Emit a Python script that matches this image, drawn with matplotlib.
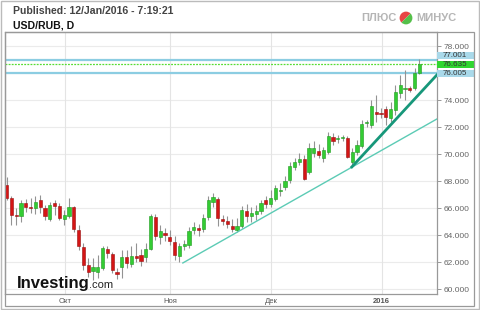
import numpy as np
import pandas as pd
import matplotlib
matplotlib.use('Agg')
import matplotlib.pyplot as plt
from matplotlib.patches import Rectangle
from matplotlib.transforms import blended_transform_factory

# daily candles USD/RUB, 14 Sep 2015 .. 12 Jan 2016
dates = pd.bdate_range('2015-09-14', '2016-01-12')
opens = [67.70, 66.74, 65.48, 65.41, 66.37, 66.07, 66.00, 66.59, 66.00, 65.19,
         66.37, 66.15, 65.19, 65.41, 66.07, 64.37, 63.11, 61.78, 61.33, 61.26,
         61.56, 62.96, 62.59, 61.26, 61.63, 62.37, 61.85, 62.44, 62.52, 62.37,
         62.96, 65.33, 63.85, 64.15, 63.85, 63.48, 62.44, 63.19, 63.26, 64.37,
         64.52, 64.44, 65.33, 66.44, 66.67, 65.19, 65.04, 64.67, 64.37, 64.67,
         65.78, 65.41, 65.56, 65.78, 66.59, 66.30, 66.67, 67.26, 67.56, 68.07,
         69.04, 69.41, 69.63, 68.67, 70.07, 70.22, 69.70, 70.15, 71.26, 71.15,
         71.17, 71.19, 69.41, 70.15, 70.59, 72.28, 72.15, 73.11, 73.04, 73.33,
         72.67, 73.26, 74.52, 74.85, 74.89, 74.89, 76.00]
closes = [66.74, 65.48, 65.41, 66.37, 66.07, 66.00, 66.44, 66.07, 65.41, 66.22,
          66.15, 65.26, 65.48, 66.07, 64.44, 63.19, 61.78, 61.26, 61.63, 61.63,
          63.04, 62.67, 61.41, 61.11, 62.37, 61.93, 62.44, 62.30, 62.07, 62.96,
          65.41, 63.93, 64.30, 64.00, 63.56, 62.52, 63.19, 63.33, 64.30, 64.59,
          64.37, 65.26, 66.59, 66.81, 65.26, 65.04, 64.81, 64.44, 64.67, 65.85,
          65.41, 65.63, 65.78, 66.37, 66.30, 66.74, 67.48, 67.33, 68.00, 69.11,
          69.41, 69.63, 68.15, 70.44, 70.44, 69.93, 70.30, 71.33, 70.96, 71.19,
          71.20, 69.78, 70.15, 70.67, 72.22, 72.32, 73.56, 72.96, 72.96, 72.74,
          73.33, 74.59, 75.11, 74.89, 74.74, 76.00, 76.64]
highs = [68.30, 66.89, 66.00, 66.59, 66.67, 66.74, 66.89, 66.96, 66.22, 66.44,
         66.59, 66.37, 65.85, 66.74, 66.15, 64.74, 63.41, 62.30, 62.30, 62.52,
         63.19, 63.19, 62.74, 61.56, 62.89, 62.89, 63.19, 63.41, 62.96, 63.41,
         65.56, 65.56, 64.74, 64.52, 64.37, 63.93, 63.41, 63.63, 64.59, 64.96,
         64.81, 65.56, 66.89, 67.11, 66.81, 65.48, 65.41, 65.19, 65.26, 66.15,
         66.30, 66.07, 66.22, 66.59, 66.89, 67.33, 67.70, 67.85, 68.37, 69.41,
         69.70, 70.07, 69.93, 70.81, 70.96, 70.74, 70.52, 71.63, 71.56, 71.41,
         71.41, 71.33, 70.44, 71.04, 72.52, 72.52, 74.00, 74.37, 73.41, 73.56,
         73.85, 75.11, 75.85, 76.20, 75.04, 76.37, 77.04]
lows = [66.59, 64.74, 64.74, 64.96, 65.70, 65.63, 65.56, 65.63, 65.11, 65.04,
        65.48, 65.11, 64.74, 65.26, 64.22, 62.89, 61.41, 60.89, 60.67, 60.81,
        61.41, 62.30, 61.19, 60.74, 60.81, 61.56, 61.63, 62.00, 61.70, 62.00,
        62.89, 63.63, 63.33, 63.56, 63.26, 62.15, 62.00, 62.89, 63.04, 64.07,
        63.93, 64.22, 65.11, 66.07, 64.67, 64.74, 64.52, 64.22, 64.22, 64.52,
        64.96, 64.96, 65.11, 65.56, 66.00, 66.07, 66.52, 66.89, 67.33, 67.85,
        68.81, 69.19, 68.07, 68.52, 69.78, 69.70, 69.41, 70.00, 70.67, 70.81,
        70.96, 69.70, 69.04, 69.93, 70.44, 72.00, 71.93, 72.37, 72.67, 72.15,
        72.37, 72.89, 74.15, 74.00, 74.59, 74.74, 75.93]

# trend lines (candle index, price)
trend_thin_x = [36.7, 89.6]
trend_thin_y = [61.93, 72.59]
trend_thick_x = [71.9, 89.6]
trend_thick_y = [69.04, 75.85]

level_hi = 77.001
level_lo = 76.005
last_price = 76.635

month_labels = ['Окт', 'Ноя', 'Дек', '2016']
yticks = [60, 62, 64, 66, 68, 70, 72, 74, 76, 78]

W, H = 480, 310
fig = plt.figure(figsize=(4.8, 3.1), dpi=100)
fig.patch.set_facecolor('white')
plt.rcParams['font.family'] = ['Liberation Sans', 'DejaVu Sans']

def fx(px):
    return px / W

def fy(py):
    return 1 - py / H

ax = fig.add_axes([fx(5), fy(294), fx(437 - 5), (294 - 32) / H])

idx = np.arange(len(dates))
o = np.array(opens)
c = np.array(closes)
up = c >= o

# grid
for v in yticks:
    ax.axhline(v, color='#ebebeb', lw=0.8, zorder=0)
month_pos = [i - 0.9 for i in range(1, len(dates)) if dates[i].month != dates[i - 1].month]
for m in month_pos:
    ax.axvline(m, color='#e4e4e4', lw=0.8, zorder=0)

# level lines
ax.axhline(level_hi, color='#8ccde2', lw=1.6, zorder=1)
ax.axhline(level_lo, color='#8ccde2', lw=1.6, zorder=1)
ax.axhline(last_price, color='#55dd33', lw=0.9, ls=(0, (1.5, 1)), zorder=1)

# candles
ax.vlines(idx, lows, highs, color='#939393', lw=0.8, zorder=2)
body_lo = np.minimum(o, c)
body_h = np.maximum(np.abs(c - o), 0.06)
ax.bar(idx[up], body_h[up], bottom=body_lo[up], width=0.66,
       color='#33cc33', edgecolor='#1f9a1f', lw=0.4, zorder=3)
ax.bar(idx[~up], body_h[~up], bottom=body_lo[~up], width=0.66,
       color='#d41515', edgecolor='#9a1010', lw=0.4, zorder=3)

# trend lines
ax.plot(trend_thin_x, trend_thin_y, color='#5ccbb5', lw=1.0, zorder=4)
ax.plot(trend_thick_x, trend_thick_y, color='#17977a', lw=2.0, zorder=4)

ax.set_xlim(-0.35, 89.65)
ax.set_ylim(59.63, 79.04)

ax.yaxis.tick_right()
ax.set_yticks(yticks)
# 76.000 sits under the price box, so its label is left blank
ax.set_yticklabels(['' if v == 76 else '%.3f' % v for v in yticks])
ax.tick_params(axis='y', length=3, width=0.6, color='#888888', labelsize=6,
               labelcolor='#666666', pad=2)
ax.set_xticks(month_pos)
ax.set_xticklabels(month_labels)
ax.tick_params(axis='x', length=0, labelsize=5.5, labelcolor='#555555', pad=3)
ax.get_xticklabels()[-1].set_fontweight('bold')
for s in ax.spines.values():
    s.set_color('#999999')
    s.set_linewidth(0.9)

# price labels at right, stacked so they do not collide
tr = blended_transform_factory(ax.transAxes, ax.transData)
box_w = 37 / 432
for val, yc, bg in [(level_hi, 77.30, '#a9d9ea'), (last_price, 76.63, '#2fd62f'),
                    (level_lo, 75.96, '#a9d9ea')]:
    ax.add_patch(Rectangle((1.0, yc - 0.27), box_w, 0.54, transform=tr,
                           fc=bg, ec='none', clip_on=False, zorder=5))
    ax.text(1.012, yc, '%.3f' % val, transform=tr, fontsize=5.8,
            color='#333333', va='center', ha='left', clip_on=False, zorder=6)

# frames
fig.add_artist(Rectangle((fx(5), fy(306)), fx(474 - 5), (306 - 32) / H,
                         transform=fig.transFigure, fill=False,
                         ec='#999999', lw=0.9))
fig.add_artist(Rectangle((0.002, 0.003), 0.996, 0.994, transform=fig.transFigure,
                         fill=False, ec='#bbbbbb', lw=1.0))

# header
fig.text(fx(13), fy(11), 'Published: 12/Jan/2016 - 7:19:21', fontsize=7.6,
         fontweight='bold', color='#444444', va='center', ha='left')
fig.text(fx(13), fy(25), 'USD/RUB, D', fontsize=7.6, fontweight='bold',
         color='#111111', va='center', ha='left')
fig.text(fx(379), fy(18), 'ПЛЮС', fontsize=8, fontweight='bold',
         color='#b5b5b5', va='center', ha='center')
fig.text(fx(436), fy(18), 'МИНУС', fontsize=8, fontweight='bold',
         color='#b5b5b5', va='center', ha='center')
lax = fig.add_axes([fx(398), fy(26), 16 / W, 16 / H])
lax.pie([1, 1], colors=['#e84545', '#55c04a'], startangle=45)
lax.set_aspect('equal')
lax.axis('off')

# watermark
fig.text(fx(17), fy(288), 'Investing', fontsize=12, fontweight='bold',
         color='#111111', va='baseline', ha='left', zorder=10)
fig.text(fx(89), fy(288), '.com', fontsize=8, color='#222222',
         va='baseline', ha='left', zorder=10)

fig.savefig('out.png', dpi=100, facecolor='white')
